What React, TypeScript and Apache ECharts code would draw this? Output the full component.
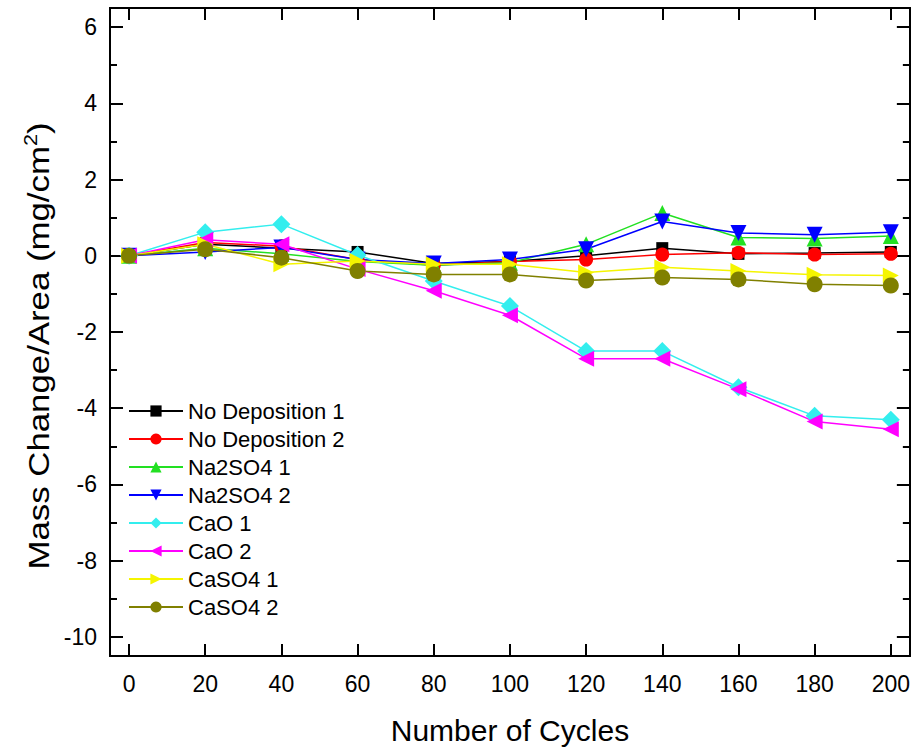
import React, { useEffect, useRef } from "react";
import * as echarts from "echarts";

const cycles = [0, 20, 40, 60, 80, 100, 120, 140, 160, 180, 200];
const noDep1 = [0, 0.3, 0.2, 0.1, -0.2, -0.15, 0.0, 0.2, 0.05, 0.07, 0.1];
const noDep2 = [0, 0.35, 0.25, -0.1, -0.25, -0.15, -0.1, 0.03, 0.08, 0.03, 0.05];
const na2so4_1 = [0, 0.2, 0.05, -0.15, -0.25, -0.18, 0.3, 1.12, 0.48, 0.45, 0.52];
const na2so4_2 = [0, 0.1, 0.22, -0.1, -0.2, -0.1, 0.17, 0.9, 0.6, 0.55, 0.62];
const cao1 = [0, 0.62, 0.83, 0.02, -0.66, -1.32, -2.5, -2.5, -3.45, -4.2, -4.3];
const cao2 = [0, 0.42, 0.3, -0.35, -0.92, -1.56, -2.7, -2.7, -3.5, -4.35, -4.55];
const caso4_1 = [0, 0.3, -0.22, -0.14, -0.22, -0.22, -0.44, -0.3, -0.4, -0.5, -0.52];
const caso4_2 = [0, 0.17, -0.05, -0.4, -0.49, -0.49, -0.65, -0.57, -0.62, -0.75, -0.78];

const xTicks = [0, 20, 40, 60, 80, 100, 120, 140, 160, 180, 200];
const yMajor = [-10, -8, -6, -4, -2, 0, 2, 4, 6];
const yMinor = [-9, -7, -5, -3, -1, 1, 3, 5];

const FONT = "'Liberation Sans', Arial, Helvetica, sans-serif";

export default function App() {
  const ref = useRef<HTMLDivElement>(null);
  useEffect(() => {
    if (!ref.current) return;
    const chart = echarts.init(ref.current, null, { renderer: "svg" });

    const mk = (name: string, data: number[], color: string, symbol: string, rotate = 0, size = 13) => ({
      name,
      type: "line",
      data: cycles.map((c, i) => [c, data[i]]),
      symbol,
      symbolSize: size,
      symbolRotate: rotate,
      itemStyle: { color },
      lineStyle: { color, width: 1.5 },
      emphasis: { disabled: true },
    });

    const axisLine = { show: true, onZero: false, lineStyle: { color: "#000", width: 2 } };
    const baseY = {
      type: "value",
      min: -10.5,
      max: 6.5,
      splitLine: { show: false },
      axisLine,
    };

    chart.setOption({
      animation: false,
      grid: { left: 110, right: 3, top: 8, bottom: 83 },
      graphic: [
        {
          type: "text",
          x: 39,
          y: 346,
          rotation: Math.PI / 2,
          scaleX: 1.2,
          style: {
            text: "{a|Mass Change/Area (mg/cm}{s|2}{a|)}",
            align: "center",
            verticalAlign: "middle",
            rich: {
              a: { fontFamily: FONT, fontSize: 29, fill: "#000", lineHeight: 34 },
              s: { fontFamily: FONT, fontSize: 18, fill: "#000", verticalAlign: "top", lineHeight: 34 },
            },
          },
        },
      ],
      legend: {
        orient: "vertical",
        left: 123,
        top: 395,
        itemWidth: 54,
        itemHeight: 14,
        itemGap: 6,
        textStyle: { fontFamily: FONT, fontSize: 22, color: "#000", lineHeight: 22 },
        data: [
          "No Deposition 1",
          "No Deposition 2",
          "Na2SO4 1",
          "Na2SO4 2",
          "CaO 1",
          "CaO 2",
          "CaSO4 1",
          "CaSO4 2",
        ],
      },
      xAxis: [
        {
          type: "value",
          min: -5,
          max: 205,
          position: "bottom",
          name: "Number of Cycles",
          nameLocation: "middle",
          nameGap: 59,
          nameTextStyle: { fontFamily: FONT, fontSize: 30, color: "#000" },
          splitLine: { show: false },
          axisLine,
          axisTick: { inside: true, length: 12, customValues: xTicks, lineStyle: { color: "#000", width: 2 } },
          axisLabel: { customValues: xTicks, margin: 16, fontFamily: FONT, fontSize: 23, color: "#000" },
        },
        {
          type: "value",
          min: -5,
          max: 205,
          position: "top",
          splitLine: { show: false },
          axisLine,
          axisTick: { inside: true, length: 12, customValues: xTicks, lineStyle: { color: "#000", width: 2 } },
          axisLabel: { show: false },
        },
      ],
      yAxis: [
        {
          ...baseY,
          position: "left",
          axisTick: { inside: true, length: 13, customValues: yMajor, lineStyle: { color: "#000", width: 2 } },
          axisLabel: { customValues: yMajor, margin: 13, fontFamily: FONT, fontSize: 23, color: "#000" },
        },
        {
          ...baseY,
          position: "left",
          axisTick: { inside: true, length: 7, customValues: yMinor, lineStyle: { color: "#000", width: 2 } },
          axisLabel: { show: false },
        },
        {
          ...baseY,
          position: "right",
          axisTick: { inside: true, length: 13, customValues: yMajor, lineStyle: { color: "#000", width: 2 } },
          axisLabel: { show: false },
        },
        {
          ...baseY,
          position: "right",
          axisTick: { inside: true, length: 7, customValues: yMinor, lineStyle: { color: "#000", width: 2 } },
          axisLabel: { show: false },
        },
      ],
      series: [
        mk("No Deposition 1", noDep1, "#000000", "rect", 0, 12),
        mk("No Deposition 2", noDep2, "#ff0000", "circle", 0, 14),
        mk("Na2SO4 1", na2so4_1, "#22e022", "triangle", 0, 16),
        mk("Na2SO4 2", na2so4_2, "#0000ff", "triangle", 180, 16),
        mk("CaO 1", cao1, "#33eeee", "diamond", 0, 18),
        mk("CaO 2", cao2, "#ff00ff", "triangle", 90, 16),
        mk("CaSO4 1", caso4_1, "#f5f500", "triangle", -90, 16),
        mk("CaSO4 2", caso4_2, "#808000", "circle", 0, 16),
      ],
    });
    return () => chart.dispose();
  }, []);
  return (
    <div
      ref={ref}
      style={{ position: "absolute", left: 0, top: 0, width: 913, height: 750, background: "#fff" }}
    />
  );
}
